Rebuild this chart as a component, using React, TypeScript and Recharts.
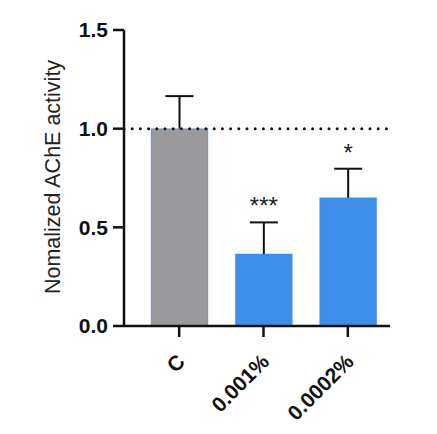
import React from "react";
import { BarChart, Bar, XAxis, YAxis, ReferenceLine, Cell, Label } from "recharts";

const categories = ["C", "0.001%", "0.0002%"];
const means = [1.0, 0.365, 0.65];
const errors = [0.165, 0.16, 0.147];
const significance = ["", "***", "*"];
const barColors = ["#9b9a9c", "#3e8fea", "#3e8fea"];
const yTicks = [0, 0.5, 1.0, 1.5];

const data = categories.map((c, i) => ({
  name: c,
  mean: means[i],
  err: errors[i],
  sig: significance[i],
}));

const FONT = "'Liberation Sans', Arial, sans-serif";

const BarWithError = (props: any) => {
  const { x, y, width, height, fill, payload } = props;
  const unit = height / payload.mean;
  const topY = y - payload.err * unit;
  const cx = x + width / 2;
  return (
    <g>
      <rect x={x} y={y} width={width} height={height} fill={fill} stroke="#2f7fd8" strokeOpacity={0.3} strokeWidth={1} />
      <line x1={cx} y1={y} x2={cx} y2={topY} stroke="#111" strokeWidth={2} />
      <line x1={cx - 14} y1={topY} x2={cx + 14} y2={topY} stroke="#111" strokeWidth={2} />
      {payload.sig ? (
        <text x={cx} y={topY - 8} textAnchor="middle" fontFamily={FONT} fontSize={24} fill="#222">
          {payload.sig}
        </text>
      ) : null}
    </g>
  );
};

const XTick = (props: any) => {
  const { x, y, payload } = props;
  return (
    <g transform={`translate(${x},${y})`}>
      <text
        x={0}
        y={0}
        dy={22}
        dx={-12}
        textAnchor="end"
        transform="rotate(-45)"
        fontFamily={FONT}
        fontWeight="bold"
        fontSize={21}
        fill="#111"
      >
        {payload.value}
      </text>
    </g>
  );
};

const YLabel = (props: any) => {
  const { viewBox } = props;
  const cy = viewBox.y + viewBox.height / 2 - 1;
  const cx = 53;
  return (
    <text
      x={cx}
      y={cy}
      transform={`rotate(-90, ${cx}, ${cy})`}
      textAnchor="middle"
      dominantBaseline="central"
      fontFamily={FONT}
      fontSize={21.5}
      fill="#222"
    >
      Nomalized AChE activity
    </text>
  );
};

export default function App() {
  return (
    <div style={{ position: "absolute", left: 0, top: 0, background: "#fff" }}>
      <BarChart
        width={437}
        height={434}
        data={data}
        margin={{ top: 30, right: 47, bottom: 0, left: 0 }}
        barSize={57}
      >
        <XAxis
          dataKey="name"
          tick={<XTick />}
          tickSize={11}
          axisLine={{ stroke: "#111", strokeWidth: 2.5 }}
          tickLine={{ stroke: "#111", strokeWidth: 2.5 }}
          padding={{ left: 13, right: 0 }}
          interval={0}
          height={108}
        />
        <YAxis
          width={124}
          domain={[0, 1.5]}
          ticks={yTicks}
          tickFormatter={(v: number) => v.toFixed(1)}
          tickSize={11}
          tickMargin={5}
          axisLine={{ stroke: "#111", strokeWidth: 2.5 }}
          tickLine={{ stroke: "#111", strokeWidth: 2.5 }}
          tick={{ fontFamily: FONT, fontWeight: "bold", fontSize: 21, fill: "#111" }}
          interval={0}
        >
          <Label content={<YLabel />} />
        </YAxis>
        <Bar dataKey="mean" isAnimationActive={false} shape={<BarWithError />}>
          {data.map((d, i) => (
            <Cell key={d.name} fill={barColors[i]} />
          ))}
        </Bar>
        <ReferenceLine
          y={1}
          stroke="#111"
          strokeWidth={3}
          strokeDasharray="0 8.2"
          strokeLinecap="round"
        />
      </BarChart>
    </div>
  );
}
